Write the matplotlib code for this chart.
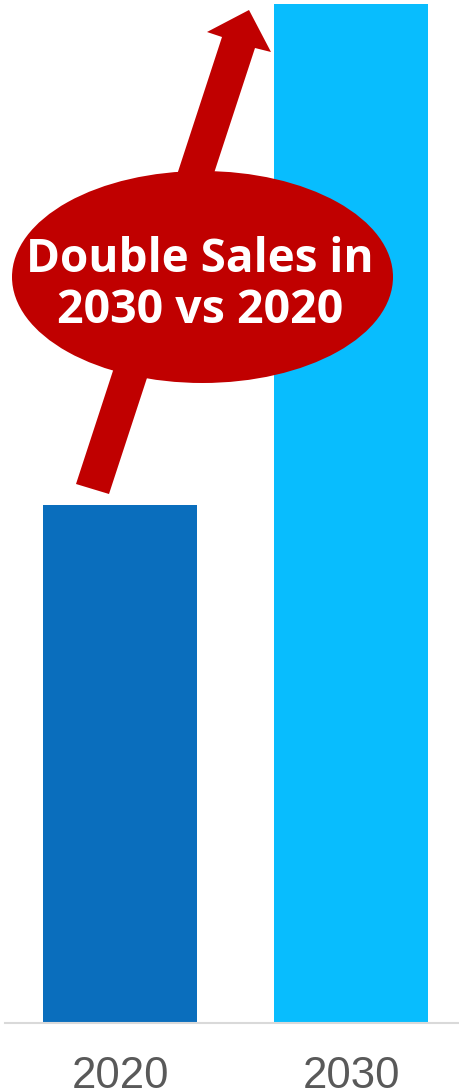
import matplotlib
matplotlib.use("Agg")
import matplotlib.pyplot as plt
from matplotlib.patches import Ellipse, Polygon

years = ["2020", "2030"]
sales = [50.8, 100.0]
bar_colors = ["#0A6EBD", "#08BDFE"]
callout_lines = ["Double Sales in", "2030 vs 2020"]

W, H = 459, 1091
fig = plt.figure(figsize=(W / 100, H / 100), dpi=100)

# main bar axes (pixel layout)
ax_left, ax_right = 5, 459
ax_top, ax_bottom = 0, 1022.5
ax = fig.add_axes([ax_left / W, (H - ax_bottom) / H, (ax_right - ax_left) / W, (ax_bottom - ax_top) / H])
x = list(range(len(years)))
ax.bar(x, sales, width=0.667, color=bar_colors)
unit = 231.0
ax.set_xlim(0 - (120 - ax_left) / unit, 1 + (ax_right - 351) / unit)
ax.set_ylim(0, sales[1] * (ax_bottom - ax_top) / (ax_bottom - 3.5))
ax.set_xticks(x)
ax.set_xticklabels(years, fontsize=31.5, color="#595959", family=["Liberation Sans", "DejaVu Sans"])
ax.tick_params(axis="x", length=0, pad=24)
ax.set_yticks([])
for s in ["top", "left", "right"]:
    ax.spines[s].set_visible(False)
ax.spines["bottom"].set_color("#D9D9D9")
ax.spines["bottom"].set_linewidth(1.5)

# overlay for the callout (pixel coordinates)
ov = fig.add_axes([0, 0, 1, 1])
ov.set_xlim(0, W)
ov.set_ylim(H, 0)
ov.axis("off")
red = "#C00000"
arrow = Polygon([(76, 484), (109, 494), (255, 48), (271, 52), (249, 10),
                 (207, 32), (222, 37)], closed=True, facecolor=red, edgecolor="none")
ov.add_patch(arrow)
ov.add_patch(Ellipse((202.5, 277), 381, 212, facecolor=red, edgecolor="none"))
ov.text(200, 272, callout_lines[0], ha="center", va="baseline", color="white",
        fontsize=33, fontweight="bold", family=["Open Sans", "DejaVu Sans"])
ov.text(200, 323, callout_lines[1], ha="center", va="baseline", color="white",
        fontsize=33.5, fontweight="bold", family=["Open Sans", "DejaVu Sans"])

fig.savefig("out.png", dpi=100)
